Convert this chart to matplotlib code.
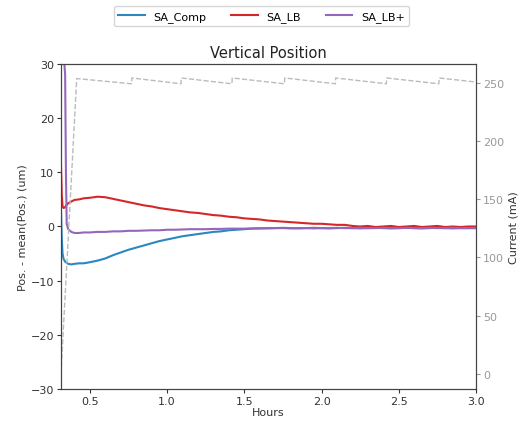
import matplotlib
matplotlib.use("Agg")
import matplotlib.pyplot as plt

hours = [0.313, 0.318, 0.323, 0.33, 0.34, 0.345, 0.35, 0.36, 0.38, 0.40, 0.43, 0.46,
         0.50, 0.55, 0.60, 0.65, 0.70, 0.75, 0.80, 0.85, 0.90, 0.95,
         1.00, 1.05, 1.10, 1.15, 1.20, 1.25, 1.30, 1.35, 1.40, 1.45,
         1.50, 1.55, 1.60, 1.65, 1.70, 1.75, 1.80, 1.85, 1.90, 1.95,
         2.00, 2.05, 2.10, 2.15, 2.20, 2.25, 2.30, 2.35, 2.40, 2.45,
         2.50, 2.55, 2.60, 2.65, 2.70, 2.75, 2.80, 2.85, 2.90, 2.95, 3.00]

sa_comp = [3.0, -2.0, -5.0, -6.0, -6.5, -6.6, -6.7, -6.9, -7.0, -6.9, -6.8, -6.8,
           -6.6, -6.3, -5.9, -5.3, -4.8, -4.3, -3.9, -3.5, -3.1, -2.7,
           -2.4, -2.1, -1.8, -1.6, -1.4, -1.2, -1.0, -0.9, -0.7, -0.6,
           -0.5, -0.4, -0.35, -0.3, -0.3, -0.25, -0.3, -0.35, -0.3, -0.25,
           -0.3, -0.35, -0.3, -0.25, -0.3, -0.35, -0.3, -0.25, -0.3, -0.35,
           -0.3, -0.25, -0.3, -0.35, -0.3, -0.25, -0.3, -0.35, -0.3, -0.3, -0.3]

sa_lb = [11.5, 6.0, 3.8, 3.4, 3.6, 3.8, 4.0, 4.3, 4.6, 4.9, 5.0, 5.2,
         5.3, 5.5, 5.4, 5.1, 4.8, 4.5, 4.2, 3.9, 3.7, 3.4,
         3.2, 3.0, 2.8, 2.6, 2.5, 2.3, 2.1, 2.0, 1.8, 1.7,
         1.5, 1.4, 1.3, 1.1, 1.0, 0.9, 0.8, 0.7, 0.6, 0.5,
         0.5, 0.4, 0.3, 0.3, 0.1, 0.0, 0.1, -0.1, 0.0, 0.1,
         -0.1, 0.0, 0.1, -0.1, 0.0, 0.1, -0.1, 0.0, -0.1, 0.0, 0.0]

sa_lb_plus = [40.0, 38.0, 35.0, 32.0, 28.0, 10.0, 0.5, -0.5, -1.0, -1.2, -1.2, -1.1,
              -1.1, -1.0, -1.0, -0.9, -0.9, -0.8, -0.8, -0.75, -0.7, -0.7,
              -0.6, -0.6, -0.55, -0.5, -0.5, -0.5, -0.45, -0.45, -0.4, -0.4,
              -0.4, -0.35, -0.35, -0.35, -0.3, -0.3, -0.35, -0.3, -0.3, -0.35,
              -0.3, -0.3, -0.25, -0.3, -0.3, -0.25, -0.3, -0.3, -0.25, -0.3,
              -0.3, -0.25, -0.3, -0.3, -0.25, -0.3, -0.3, -0.25, -0.3, -0.3, -0.3]

hours_current = [0.313, 0.415, 0.77, 0.772, 1.09, 1.092, 1.42, 1.422, 1.76, 1.762,
                 2.09, 2.092, 2.42, 2.422, 2.76, 2.762, 3.0]
current = [0, 253.5, 249, 254, 249, 254, 249, 254, 249, 254,
           249, 254, 249, 254, 249, 254, 250.5]

fig = plt.figure(figsize=(5.23, 4.27), dpi=100)
ax = fig.add_axes([0.1166, 0.0867, 0.7934, 0.7611])
ax2 = ax.twinx()

l1, = ax.plot(hours, sa_comp, color="#2c86c0", lw=1.5, label="SA_Comp")
l2, = ax.plot(hours, sa_lb, color="#d62728", lw=1.5, label="SA_LB")
l3, = ax.plot(hours, sa_lb_plus, color="#9467bd", lw=1.5, label="SA_LB+")
ax2.plot(hours_current, current, color="#bbbbbb", ls="--", lw=1.0)

ax.set_xlim(0.313, 3.0)
ax.set_ylim(-30, 30)
ax2.set_ylim(-13, 266)
ax.set_xticks([0.5, 1.0, 1.5, 2.0, 2.5, 3.0])
ax.set_yticks([-30, -20, -10, 0, 10, 20, 30])
ax2.set_yticks([0, 50, 100, 150, 200, 250])

fs = 8
ax.tick_params(labelsize=fs, colors="#333333", length=3, pad=2)
ax2.tick_params(labelsize=fs, colors="#999999", length=3, pad=2)
ax.set_xlabel("Hours", fontsize=fs, color="#333333", labelpad=1)
ax.set_ylabel("Pos. - mean(Pos.) (um)", fontsize=fs, color="#333333", labelpad=2)
ax2.set_ylabel("Current (mA)", fontsize=fs, color="#333333", labelpad=3)
ax.set_title("Vertical Position", fontsize=10.5, color="#222222", pad=5)

for a in (ax, ax2):
    for s in a.spines.values():
        s.set_color("#444444")

fig.legend(handles=[l1, l2, l3], loc="center", bbox_to_anchor=(0.5, 0.96),
           ncol=3, fontsize=fs, frameon=True, edgecolor="#cccccc",
           handlelength=2.4, columnspacing=2.2)

fig.savefig("out.png", dpi=100)
